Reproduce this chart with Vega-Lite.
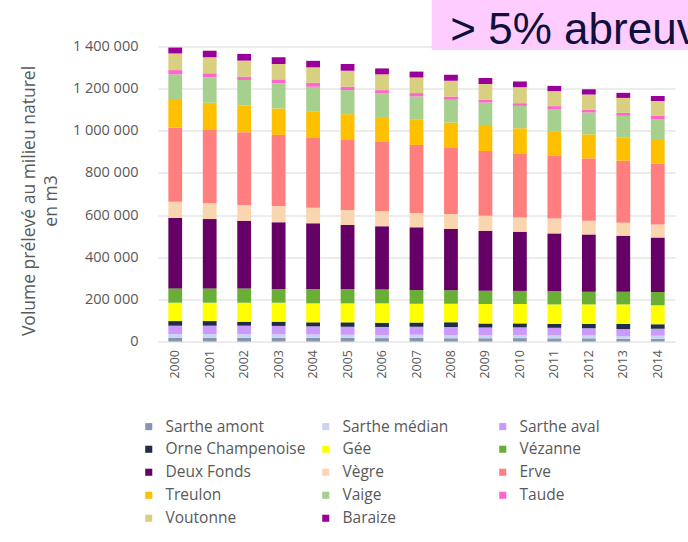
{
  "$schema": "https://vega.github.io/schema/vega-lite/v6.json",
  "autosize": "none",
  "width": 517,
  "height": 295,
  "padding": {"left": 158, "top": 46.5, "right": 13, "bottom": 200.5},
  "background": "white",
  "config": {
    "view": {"stroke": null},
    "locale": {"number": {"decimal": ",", "thousands": " ", "grouping": [3], "currency": ["", " €"]}},
    "font": "Open Sans"
  },
  "datasets": {
    "ordre": [
      {"bassin":"Sarthe amont","rang":1},{"bassin":"Sarthe médian","rang":2},{"bassin":"Sarthe aval","rang":3},{"bassin":"Orne Champenoise","rang":4},{"bassin":"Gée","rang":5},{"bassin":"Vézanne","rang":6},{"bassin":"Deux Fonds","rang":7},{"bassin":"Vègre","rang":8},{"bassin":"Erve","rang":9},{"bassin":"Treulon","rang":10},{"bassin":"Vaige","rang":11},{"bassin":"Taude","rang":12},{"bassin":"Voutonne","rang":13},{"bassin":"Baraize","rang":14}
    ],
    "vol": [
      {"annee":"2000","bassin":"Sarthe amont","volume":18000},{"annee":"2000","bassin":"Sarthe médian","volume":17000},{"annee":"2000","bassin":"Sarthe aval","volume":40000},{"annee":"2000","bassin":"Orne Champenoise","volume":22000},{"annee":"2000","bassin":"Gée","volume":87000},{"annee":"2000","bassin":"Vézanne","volume":68000},{"annee":"2000","bassin":"Deux Fonds","volume":335000},{"annee":"2000","bassin":"Vègre","volume":76000},{"annee":"2000","bassin":"Erve","volume":353000},{"annee":"2000","bassin":"Treulon","volume":130000},{"annee":"2000","bassin":"Vaige","volume":122000},{"annee":"2000","bassin":"Taude","volume":20000},{"annee":"2000","bassin":"Voutonne","volume":79000},{"annee":"2000","bassin":"Baraize","volume":28000},
      {"annee":"2001","bassin":"Sarthe amont","volume":18000},{"annee":"2001","bassin":"Sarthe médian","volume":17000},{"annee":"2001","bassin":"Sarthe aval","volume":40000},{"annee":"2001","bassin":"Orne Champenoise","volume":22000},{"annee":"2001","bassin":"Gée","volume":87000},{"annee":"2001","bassin":"Vézanne","volume":68000},{"annee":"2001","bassin":"Deux Fonds","volume":329000},{"annee":"2001","bassin":"Vègre","volume":75000},{"annee":"2001","bassin":"Erve","volume":351000},{"annee":"2001","bassin":"Treulon","volume":126000},{"annee":"2001","bassin":"Vaige","volume":121000},{"annee":"2001","bassin":"Taude","volume":19000},{"annee":"2001","bassin":"Voutonne","volume":76000},{"annee":"2001","bassin":"Baraize","volume":31000},
      {"annee":"2002","bassin":"Sarthe amont","volume":18000},{"annee":"2002","bassin":"Sarthe médian","volume":17000},{"annee":"2002","bassin":"Sarthe aval","volume":40000},{"annee":"2002","bassin":"Orne Champenoise","volume":19000},{"annee":"2002","bassin":"Gée","volume":90000},{"annee":"2002","bassin":"Vézanne","volume":68000},{"annee":"2002","bassin":"Deux Fonds","volume":321000},{"annee":"2002","bassin":"Vègre","volume":75000},{"annee":"2002","bassin":"Erve","volume":345000},{"annee":"2002","bassin":"Treulon","volume":126000},{"annee":"2002","bassin":"Vaige","volume":122000},{"annee":"2002","bassin":"Taude","volume":16000},{"annee":"2002","bassin":"Voutonne","volume":76000},{"annee":"2002","bassin":"Baraize","volume":32000},
      {"annee":"2003","bassin":"Sarthe amont","volume":18000},{"annee":"2003","bassin":"Sarthe médian","volume":16000},{"annee":"2003","bassin":"Sarthe aval","volume":40000},{"annee":"2003","bassin":"Orne Champenoise","volume":20000},{"annee":"2003","bassin":"Gée","volume":90000},{"annee":"2003","bassin":"Vézanne","volume":65000},{"annee":"2003","bassin":"Deux Fonds","volume":317000},{"annee":"2003","bassin":"Vègre","volume":77000},{"annee":"2003","bassin":"Erve","volume":338000},{"annee":"2003","bassin":"Treulon","volume":125000},{"annee":"2003","bassin":"Vaige","volume":119000},{"annee":"2003","bassin":"Taude","volume":19000},{"annee":"2003","bassin":"Voutonne","volume":73000},{"annee":"2003","bassin":"Baraize","volume":32000},
      {"annee":"2004","bassin":"Sarthe amont","volume":17000},{"annee":"2004","bassin":"Sarthe médian","volume":16000},{"annee":"2004","bassin":"Sarthe aval","volume":39000},{"annee":"2004","bassin":"Orne Champenoise","volume":19000},{"annee":"2004","bassin":"Gée","volume":90000},{"annee":"2004","bassin":"Vézanne","volume":68000},{"annee":"2004","bassin":"Deux Fonds","volume":312000},{"annee":"2004","bassin":"Vègre","volume":74000},{"annee":"2004","bassin":"Erve","volume":334000},{"annee":"2004","bassin":"Treulon","volume":121000},{"annee":"2004","bassin":"Vaige","volume":119000},{"annee":"2004","bassin":"Taude","volume":19000},{"annee":"2004","bassin":"Voutonne","volume":73000},{"annee":"2004","bassin":"Baraize","volume":31000},
      {"annee":"2005","bassin":"Sarthe amont","volume":17000},{"annee":"2005","bassin":"Sarthe médian","volume":15000},{"annee":"2005","bassin":"Sarthe aval","volume":38000},{"annee":"2005","bassin":"Orne Champenoise","volume":21000},{"annee":"2005","bassin":"Gée","volume":90000},{"annee":"2005","bassin":"Vézanne","volume":68000},{"annee":"2005","bassin":"Deux Fonds","volume":304000},{"annee":"2005","bassin":"Vègre","volume":71000},{"annee":"2005","bassin":"Erve","volume":332000},{"annee":"2005","bassin":"Treulon","volume":123000},{"annee":"2005","bassin":"Vaige","volume":114000},{"annee":"2005","bassin":"Taude","volume":16000},{"annee":"2005","bassin":"Voutonne","volume":76000},{"annee":"2005","bassin":"Baraize","volume":32000},
      {"annee":"2006","bassin":"Sarthe amont","volume":16000},{"annee":"2006","bassin":"Sarthe médian","volume":15000},{"annee":"2006","bassin":"Sarthe aval","volume":38000},{"annee":"2006","bassin":"Orne Champenoise","volume":20000},{"annee":"2006","bassin":"Gée","volume":92000},{"annee":"2006","bassin":"Vézanne","volume":66000},{"annee":"2006","bassin":"Deux Fonds","volume":300000},{"annee":"2006","bassin":"Vègre","volume":71000},{"annee":"2006","bassin":"Erve","volume":329000},{"annee":"2006","bassin":"Treulon","volume":114000},{"annee":"2006","bassin":"Vaige","volume":116000},{"annee":"2006","bassin":"Taude","volume":16000},{"annee":"2006","bassin":"Voutonne","volume":75000},{"annee":"2006","bassin":"Baraize","volume":28000},
      {"annee":"2007","bassin":"Sarthe amont","volume":17000},{"annee":"2007","bassin":"Sarthe médian","volume":15000},{"annee":"2007","bassin":"Sarthe aval","volume":38000},{"annee":"2007","bassin":"Orne Champenoise","volume":20000},{"annee":"2007","bassin":"Gée","volume":89000},{"annee":"2007","bassin":"Vézanne","volume":65000},{"annee":"2007","bassin":"Deux Fonds","volume":298000},{"annee":"2007","bassin":"Vègre","volume":68000},{"annee":"2007","bassin":"Erve","volume":323000},{"annee":"2007","bassin":"Treulon","volume":119000},{"annee":"2007","bassin":"Vaige","volume":111000},{"annee":"2007","bassin":"Taude","volume":16000},{"annee":"2007","bassin":"Voutonne","volume":74000},{"annee":"2007","bassin":"Baraize","volume":28000},
      {"annee":"2008","bassin":"Sarthe amont","volume":16000},{"annee":"2008","bassin":"Sarthe médian","volume":15000},{"annee":"2008","bassin":"Sarthe aval","volume":38000},{"annee":"2008","bassin":"Orne Champenoise","volume":22000},{"annee":"2008","bassin":"Gée","volume":88000},{"annee":"2008","bassin":"Vézanne","volume":64000},{"annee":"2008","bassin":"Deux Fonds","volume":291000},{"annee":"2008","bassin":"Vègre","volume":71000},{"annee":"2008","bassin":"Erve","volume":317000},{"annee":"2008","bassin":"Treulon","volume":117000},{"annee":"2008","bassin":"Vaige","volume":108000},{"annee":"2008","bassin":"Taude","volume":16000},{"annee":"2008","bassin":"Voutonne","volume":75000},{"annee":"2008","bassin":"Baraize","volume":28000},
      {"annee":"2009","bassin":"Sarthe amont","volume":16000},{"annee":"2009","bassin":"Sarthe médian","volume":15000},{"annee":"2009","bassin":"Sarthe aval","volume":36000},{"annee":"2009","bassin":"Orne Champenoise","volume":19000},{"annee":"2009","bassin":"Gée","volume":92000},{"annee":"2009","bassin":"Vézanne","volume":63000},{"annee":"2009","bassin":"Deux Fonds","volume":285000},{"annee":"2009","bassin":"Vègre","volume":71000},{"annee":"2009","bassin":"Erve","volume":307000},{"annee":"2009","bassin":"Treulon","volume":119000},{"annee":"2009","bassin":"Vaige","volume":111000},{"annee":"2009","bassin":"Taude","volume":13000},{"annee":"2009","bassin":"Voutonne","volume":75000},{"annee":"2009","bassin":"Baraize","volume":28000},
      {"annee":"2010","bassin":"Sarthe amont","volume":16000},{"annee":"2010","bassin":"Sarthe médian","volume":15000},{"annee":"2010","bassin":"Sarthe aval","volume":36000},{"annee":"2010","bassin":"Orne Champenoise","volume":19000},{"annee":"2010","bassin":"Gée","volume":92000},{"annee":"2010","bassin":"Vézanne","volume":62000},{"annee":"2010","bassin":"Deux Fonds","volume":281000},{"annee":"2010","bassin":"Vègre","volume":68000},{"annee":"2010","bassin":"Erve","volume":304000},{"annee":"2010","bassin":"Treulon","volume":119000},{"annee":"2010","bassin":"Vaige","volume":106000},{"annee":"2010","bassin":"Taude","volume":13000},{"annee":"2010","bassin":"Voutonne","volume":76000},{"annee":"2010","bassin":"Baraize","volume":27000},
      {"annee":"2011","bassin":"Sarthe amont","volume":15000},{"annee":"2011","bassin":"Sarthe médian","volume":14000},{"annee":"2011","bassin":"Sarthe aval","volume":36000},{"annee":"2011","bassin":"Orne Champenoise","volume":18000},{"annee":"2011","bassin":"Gée","volume":93000},{"annee":"2011","bassin":"Vézanne","volume":63000},{"annee":"2011","bassin":"Deux Fonds","volume":274000},{"annee":"2011","bassin":"Vègre","volume":71000},{"annee":"2011","bassin":"Erve","volume":297000},{"annee":"2011","bassin":"Treulon","volume":114000},{"annee":"2011","bassin":"Vaige","volume":108000},{"annee":"2011","bassin":"Taude","volume":14000},{"annee":"2011","bassin":"Voutonne","volume":71000},{"annee":"2011","bassin":"Baraize","volume":25000},
      {"annee":"2012","bassin":"Sarthe amont","volume":15000},{"annee":"2012","bassin":"Sarthe médian","volume":14000},{"annee":"2012","bassin":"Sarthe aval","volume":34000},{"annee":"2012","bassin":"Orne Champenoise","volume":20000},{"annee":"2012","bassin":"Gée","volume":93000},{"annee":"2012","bassin":"Vézanne","volume":60000},{"annee":"2012","bassin":"Deux Fonds","volume":272000},{"annee":"2012","bassin":"Vègre","volume":65000},{"annee":"2012","bassin":"Erve","volume":296000},{"annee":"2012","bassin":"Treulon","volume":114000},{"annee":"2012","bassin":"Vaige","volume":104000},{"annee":"2012","bassin":"Taude","volume":14000},{"annee":"2012","bassin":"Voutonne","volume":71000},{"annee":"2012","bassin":"Baraize","volume":25000},
      {"annee":"2013","bassin":"Sarthe amont","volume":13000},{"annee":"2013","bassin":"Sarthe médian","volume":13000},{"annee":"2013","bassin":"Sarthe aval","volume":33000},{"annee":"2013","bassin":"Orne Champenoise","volume":24000},{"annee":"2013","bassin":"Gée","volume":93000},{"annee":"2013","bassin":"Vézanne","volume":60000},{"annee":"2013","bassin":"Deux Fonds","volume":266000},{"annee":"2013","bassin":"Vègre","volume":62000},{"annee":"2013","bassin":"Erve","volume":294000},{"annee":"2013","bassin":"Treulon","volume":109000},{"annee":"2013","bassin":"Vaige","volume":104000},{"annee":"2013","bassin":"Taude","volume":14000},{"annee":"2013","bassin":"Voutonne","volume":71000},{"annee":"2013","bassin":"Baraize","volume":24000},
      {"annee":"2014","bassin":"Sarthe amont","volume":13000},{"annee":"2014","bassin":"Sarthe médian","volume":14000},{"annee":"2014","bassin":"Sarthe aval","volume":33000},{"annee":"2014","bassin":"Orne Champenoise","volume":22000},{"annee":"2014","bassin":"Gée","volume":90000},{"annee":"2014","bassin":"Vézanne","volume":63000},{"annee":"2014","bassin":"Deux Fonds","volume":258000},{"annee":"2014","bassin":"Vègre","volume":62000},{"annee":"2014","bassin":"Erve","volume":290000},{"annee":"2014","bassin":"Treulon","volume":111000},{"annee":"2014","bassin":"Vaige","volume":100000},{"annee":"2014","bassin":"Taude","volume":14000},{"annee":"2014","bassin":"Voutonne","volume":71000},{"annee":"2014","bassin":"Baraize","volume":24000}
    ],
    "note": [{"texte": "> 5% abreuv", "x0": 0.5294, "x1": 1.2, "xt": 0.5655, "y0": 1383400, "y1": 1650000, "yt": 1411900}]
  },
  "layer": [
    {
      "data": {"name": "vol"},
      "transform": [
        {"lookup": "bassin", "from": {"data": {"name": "ordre"}, "key": "bassin", "fields": ["rang"]}}
      ],
      "mark": {"type": "bar"},
      "encoding": {
        "x": {
          "field": "annee", "type": "nominal", "title": null,
          "scale": {"paddingInner": 0.6, "paddingOuter": 0.3},
          "axis": {"labelAngle": -90, "labelAlign": "right", "labelBaseline": "middle", "labelPadding": 8, "ticks": false, "domain": false, "labelFontSize": 12.5, "labelColor": "#595959", "labelFont": "Open Sans"}
        },
        "y": {
          "field": "volume", "type": "quantitative", "stack": "zero",
          "scale": {"domain": [0, 1400000], "nice": false},
          "title": ["Volume prélevé au milieu naturel", "en m3"],
          "axis": {
            "values": [0, 200000, 400000, 600000, 800000, 1000000, 1200000, 1400000],
            "format": ",d", "ticks": false, "domain": false,
            "gridColor": "#d9d9d9", "gridWidth": 1,
            "labelFontSize": 14.5, "labelColor": "#595959", "labelPadding": 20, "labelFont": "Open Sans",
            "titleFontSize": 17.5, "titleFontWeight": "normal", "titleColor": "#595959", "titleFont": "Open Sans",
            "titleLineHeight": 22, "titlePadding": 12, "titleY": 154
          }
        },
        "order": {"field": "rang", "type": "quantitative", "sort": "ascending"},
        "color": {
          "field": "bassin", "type": "nominal",
          "scale": {
            "domain": ["Sarthe amont", "Sarthe médian", "Sarthe aval", "Orne Champenoise", "Gée", "Vézanne", "Deux Fonds", "Vègre", "Erve", "Treulon", "Vaige", "Taude", "Voutonne", "Baraize"],
            "range": ["#8497b0", "#c9d5f0", "#cc99ff", "#1f2d4a", "#ffff00", "#6aaf35", "#660066", "#fad6b0", "#ff7f7f", "#ffc000", "#a6d08e", "#ff66cc", "#d8cf80", "#990099"]
          },
          "legend": {
            "title": null, "orient": "none", "legendX": -17, "legendY": 372, "direction": "horizontal",
            "columns": 3, "gridAlign": "all", "columnPadding": 12, "rowPadding": 6,
            "symbolType": "square", "symbolSize": 50, "symbolStrokeWidth": 0,
            "labelFontSize": 15.5, "labelColor": "#595959", "labelFont": "Open Sans", "labelOffset": 9, "labelLimit": 300
          }
        }
      }
    },
    {
      "data": {"name": "note"},
      "mark": {"type": "rect", "color": "#ffccff"},
      "encoding": {
        "x": {"field": "x0", "type": "quantitative", "scale": {"domain": [0, 1]}, "axis": null},
        "x2": {"field": "x1"},
        "y": {"field": "y0", "type": "quantitative", "scale": {"domain": [0, 1400000], "nice": false}},
        "y2": {"field": "y1"}
      }
    },
    {
      "data": {"name": "note"},
      "mark": {"type": "text", "align": "left", "baseline": "alphabetic", "font": "Liberation Sans", "fontSize": 44, "color": "#10103c"},
      "encoding": {
        "x": {"field": "xt", "type": "quantitative", "scale": {"domain": [0, 1]}, "axis": null},
        "y": {"field": "yt", "type": "quantitative", "scale": {"domain": [0, 1400000], "nice": false}},
        "text": {"field": "texte"}
      }
    }
  ],
  "resolve": {"scale": {"x": "independent"}}
}
